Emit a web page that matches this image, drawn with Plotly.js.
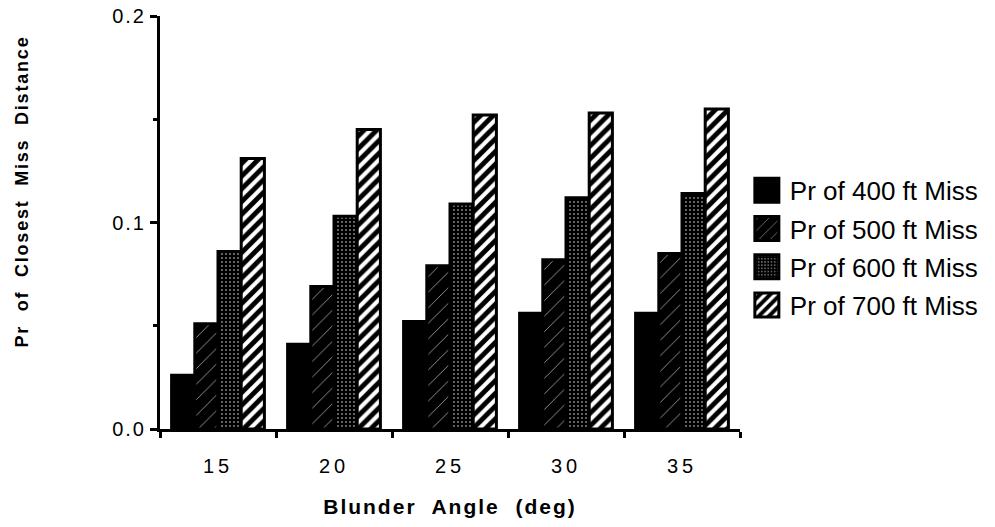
<!DOCTYPE html>
<html>
<head>
<meta charset="utf-8">
<script src="https://cdn.plot.ly/plotly-3.0.1.min.js"></script>
<style>
  html, body { margin: 0; padding: 0; background: #fff; }
  #chart { width: 995px; height: 527px; }
  #chart .xtick text { letter-spacing: 4px; }
  #chart .ytick text { letter-spacing: 2px; }
  #chart .g-xtitle text { letter-spacing: 2px; }
  #chart .annotation-text { letter-spacing: 1.8px; }
</style>
</head>
<body>
<div id="chart"></div>
<script>
const categories = ["15", "20", "25", "30", "35"];
const seriesNames = ["Pr of 400 ft Miss", "Pr of 500 ft Miss", "Pr of 600 ft Miss", "Pr of 700 ft Miss"];
const miss400 = [0.026, 0.041, 0.052, 0.056, 0.056];
const miss500 = [0.051, 0.069, 0.079, 0.082, 0.085];
const miss600 = [0.086, 0.103, 0.109, 0.112, 0.114];
const miss700 = [0.131, 0.145, 0.152, 0.153, 0.155];
const yTickVals = [0, 0.1, 0.2];
const yTickText = ["0.0", "0.1", "0.2"];

const FONT = "Liberation Sans, Arial, Helvetica, sans-serif";

const patterns = [
  { shape: "", bgcolor: "#000", fgcolor: "#000" },
  { shape: "/", bgcolor: "#000", fgcolor: "#fff", size: 11, solidity: 0.05 },
  { shape: ".", bgcolor: "#000", fgcolor: "#fff", size: 4, solidity: 0.1 },
  { shape: "/", bgcolor: "#fff", fgcolor: "#000", size: 9, solidity: 0.55 }
];
const allSeries = [miss400, miss500, miss600, miss700];

const traces = allSeries.map((vals, i) => ({
  type: "bar",
  name: seriesNames[i],
  x: categories,
  y: vals,
  legendgroup: "g" + i,
  marker: {
    color: "#000",
    line: { color: "#000", width: 3 },
    pattern: patterns[i]
  }
}));

const layout = {
  width: 995,
  height: 527,
  margin: { l: 160, r: 253, t: 16, b: 98 },
  paper_bgcolor: "#fff",
  plot_bgcolor: "#fff",
  barmode: "group",
  bargap: 0.2,
  bargroupgap: 0,
  font: { family: FONT, color: "#000" },
  showlegend: true,
  legend: {
    x: 1.017, y: 0.635, xanchor: "left", yanchor: "top",
    font: { family: FONT, size: 26, color: "#000" },
    tracegroupgap: 1.5,
    traceorder: "grouped",
    bgcolor: "rgba(0,0,0,0)"
  },
  xaxis: {
    type: "category",
    range: [-0.5, 4.5],
    showline: true, linecolor: "#000", linewidth: 3,
    ticks: "outside", tickson: "boundaries", ticklen: 6, tickwidth: 3, tickcolor: "#000",
    tickfont: { family: FONT, size: 20, color: "#000" },
    ticklabelstandoff: 17,
    showgrid: false, zeroline: false,
    title: { text: "Blunder  Angle  (deg)", font: { family: FONT, size: 21, color: "#000", weight: "bold" }, standoff: 24 }
  },
  yaxis: {
    range: [0, 0.2],
    showline: true, linecolor: "#000", linewidth: 3,
    ticks: "outside", ticklen: 7, tickwidth: 3, tickcolor: "#000",
    tickvals: yTickVals, ticktext: yTickText,
    tickfont: { family: FONT, size: 20, color: "#000" },
    ticklabelstandoff: 0,
    minor: { dtick: 0.05, ticks: "outside", ticklen: 4, tickwidth: 3, tickcolor: "#000", showgrid: false },
    showgrid: false, zeroline: false
  },
  annotations: [{
    text: "Pr  of  Closest  Miss  Distance",
    textangle: -90,
    xref: "paper", yref: "paper",
    x: 0, y: 0.575,
    xanchor: "center", yanchor: "middle",
    xshift: -138,
    showarrow: false,
    font: { family: FONT, size: 18, color: "#000", weight: "bold" }
  }]
};

function enlargeLegendSwatches() {
  document.querySelectorAll("#chart g.legendpoints path").forEach(p => {
    p.setAttribute("d", "M9,12H-15V-12H9Z");
  });
}

Plotly.newPlot("chart", traces, layout, { displayModeBar: false, staticPlot: true }).then(() => {
  enlargeLegendSwatches();
  setTimeout(enlargeLegendSwatches, 50);
});
</script>
</body>
</html>
